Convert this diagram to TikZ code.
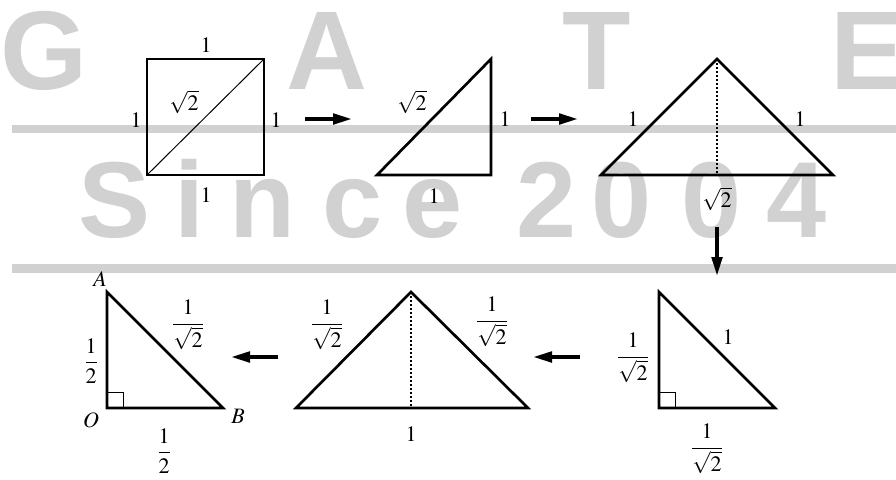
\documentclass[tikz,border=0pt]{standalone}
\usepackage{amsmath}
\usepackage{mathptmx}
\usepackage{fontspec}
\setmainfont{Liberation Serif}
\newfontfamily\wmfont{Liberation Sans}
\usepackage{tikz}
\usetikzlibrary{arrows.meta}
\tikzset{
  side/.style={line width=2pt},
  thinside/.style={line width=0.75pt},
  height/.style={line width=0.8pt, dash pattern=on 1.5pt off 1.5pt},
  flow/.style={line width=3.4pt, -{Triangle[length=15pt,width=7.5pt]}},
  lbl/.style={inner sep=0pt, font=\fontsize{16.5}{19}\selectfont},
  wm/.style={inner sep=0pt, anchor=base, text=wmColor, font=\wmfont\bfseries\fontsize{84}{84}\selectfont},
  wmsmall/.style={wm, font=\wmfont\bfseries\fontsize{81}{81}\selectfont},
}

\begin{document}
\begin{tikzpicture}[x=0.75pt, y=-0.75pt]

% ---------------------------------------------------------------------------
% Color aliases
% ---------------------------------------------------------------------------
\colorlet{wmColor}{black!18}

\useasboundingbox (0,0) rectangle (896,479);
\clip (0,0) rectangle (896,479);

% ---------------------------------------------------------------------------
% Watermark (bars and letters)
% ---------------------------------------------------------------------------
\fill[wmColor] (12,125) rectangle (896,133);
\fill[wmColor] (12,264) rectangle (896,273);

\foreach \ch/\cx in {G/44, A/327, T/597} {
    \node[wm] (wm\ch) at (\cx, 89) {\ch};
}
\node[wm, anchor=base west] (wmE) at (830, 89) {E};

\foreach \ch/\cx [count=\k] in {S/115, i/190, n/262, c/353, e/433, 2/547, 0/622, 0/712, 4/797} {
    \node[wmsmall] (since\k) at (\cx, 237) {\ch};
}

% ===========================================================================
%  TOP ROW
% ===========================================================================

% Unit square with its diagonal
\draw[side] (147,59) rectangle (264,175);
\draw[thinside] (147,175) -- (264,59);
\node[lbl] (sqTop)   at (206,45)  {$1$};
\node[lbl] (sqLeft)  at (136,120) {$1$};
\node[lbl] (sqRight) at (276,120) {$1$};
\node[lbl] (sqBot)   at (206,195) {$1$};
\node[lbl] (sqDiag)  at (184,102) {$\sqrt{2}$};

% Half of the square
\coordinate (hL) at (377,175);
\coordinate (hT) at (491,59);
\coordinate (hR) at (491,175);
\draw[side, line join=miter] (hL) -- (hT) -- (hR) -- cycle;
\node[lbl] (halfHyp)   at (412,102) {$\sqrt{2}$};
\node[lbl] (halfRight) at (505,119) {$1$};
\node[lbl] (halfBot)   at (434,196) {$1$};

% Wide isosceles triangle
\coordinate (wL) at (601,175);
\coordinate (wT) at (717,59);
\coordinate (wR) at (833,175);
\coordinate (wF) at (717,175);
\draw[side, line join=miter] (wL) -- (wT) -- (wR) -- cycle;
\draw[height] (wT) -- (wF);
\node[lbl] (wideLeft)  at (633,119) {$1$};
\node[lbl] (wideRight) at (800,119) {$1$};
\node[lbl] (wideBase)  at (717,199) {$\sqrt{2}$};

% ===========================================================================
%  BOTTOM ROW
% ===========================================================================

% Right triangle with unit hypotenuse
\coordinate (rT) at (659,292);
\coordinate (rO) at (659,408);
\coordinate (rR) at (775,408);
\draw[side, line join=miter] (rT) -- (rO) -- (rR) -- cycle;
\draw[thinside] (659,392) -- (675,392) -- (675,408);
\node[lbl] (rightLeft) at (633,358) {$\dfrac{1}{\sqrt{2}}$};
\node[lbl] (rightHyp)  at (728,337) {$1$};
\node[lbl] (rightBot)  at (707,449) {$\dfrac{1}{\sqrt{2}}$};

% Isosceles triangle on the unit base
\coordinate (mL) at (296,408);
\coordinate (mT) at (411,292);
\coordinate (mR) at (528,408);
\coordinate (mF) at (411,408);
\draw[side, line join=miter] (mL) -- (mT) -- (mR) -- cycle;
\draw[height] (mT) -- (mF);
\node[lbl] (midLeft)  at (327,325) {$\dfrac{1}{\sqrt{2}}$};
\node[lbl] (midRight) at (492,322) {$\dfrac{1}{\sqrt{2}}$};
\node[lbl] (midBase)  at (411,434) {$1$};

% Triangle OAB
\coordinate (A) at (107,292);
\coordinate (O) at (107,408);
\coordinate (B) at (223,408);
\draw[side, line join=miter] (A) -- (O) -- (B) -- cycle;
\draw[thinside] (107,392) -- (123,392) -- (123,408);
\node[lbl] (labA) at (100,279) {$A$};
\node[lbl] (labO) at (91,420)  {$O$};
\node[lbl] (labB) at (238,416) {$B$};
\node[lbl] (oabLeft) at (91,361)  {$\dfrac{1}{2}$};
\node[lbl] (oabHyp)  at (188,325) {$\dfrac{1}{\sqrt{2}}$};
\node[lbl] (oabBot)  at (164,451) {$\dfrac{1}{2}$};

% ---------------------------------------------------------------------------
% Arrows between the steps
% ---------------------------------------------------------------------------
\coordinate (f1s) at (305,119);  \coordinate (f1e) at (353,119);
\coordinate (f2s) at (531,119);  \coordinate (f2e) at (579,119);
\coordinate (f3s) at (717,227);  \coordinate (f3e) at (717,277);
\coordinate (f4s) at (580,357);  \coordinate (f4e) at (532,357);
\coordinate (f5s) at (278,357);  \coordinate (f5e) at (230,357);

\foreach \k in {1,...,5} {
    \draw[flow] (f\k s) -- (f\k e);
}

\end{tikzpicture}
\end{document}
